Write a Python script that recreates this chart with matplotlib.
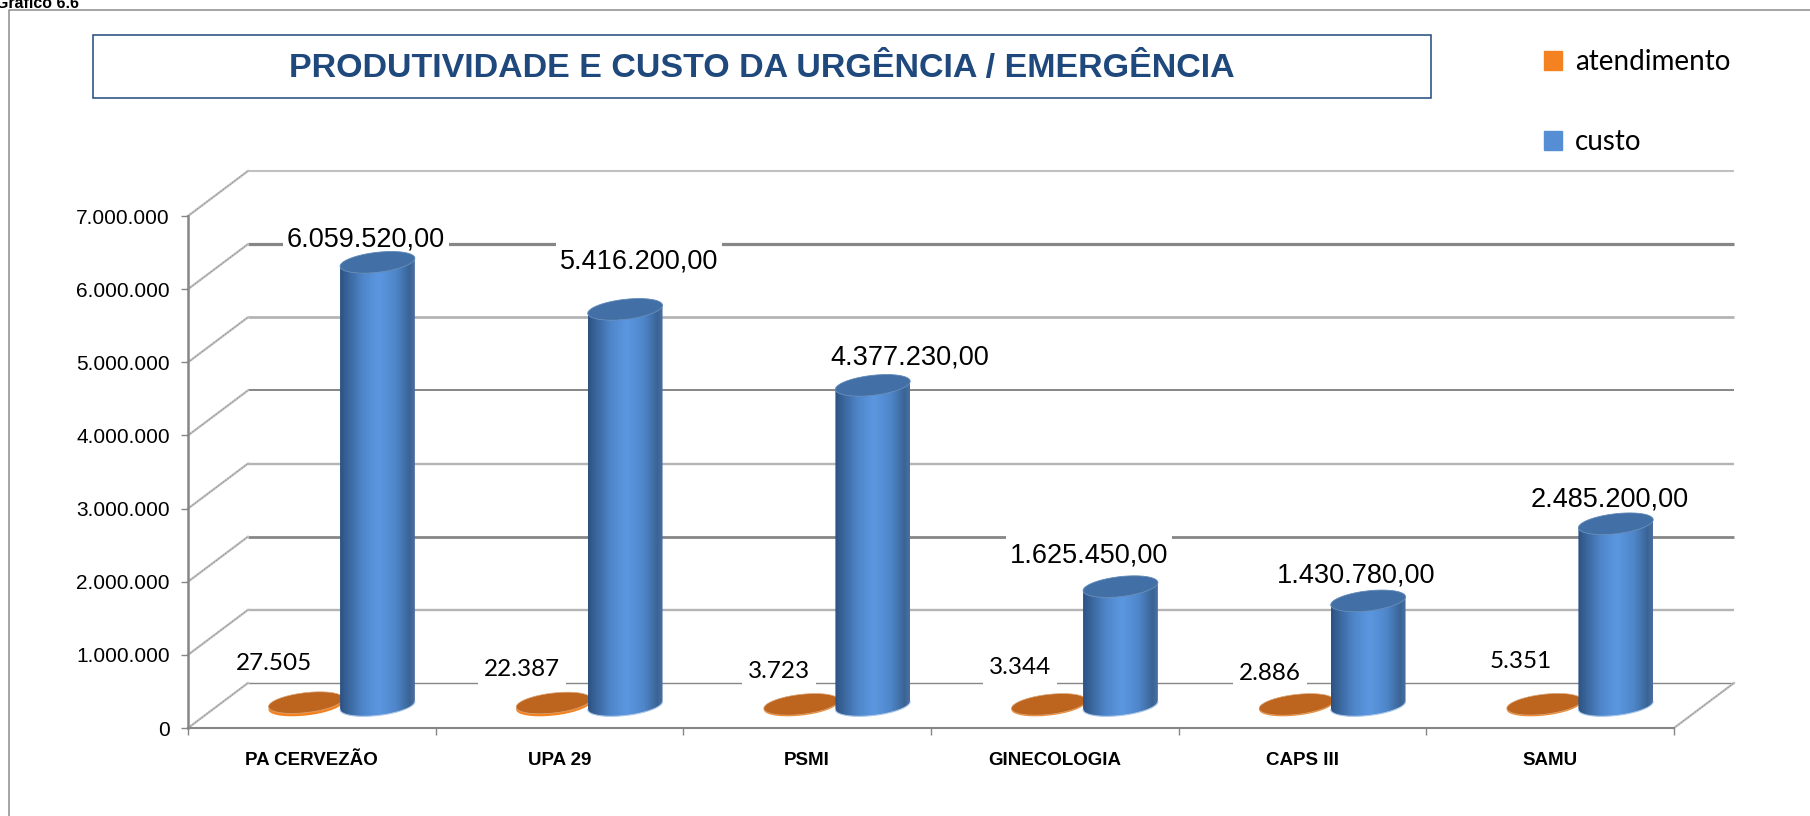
import numpy as np
import matplotlib
matplotlib.use("Agg")
import matplotlib.pyplot as plt
from matplotlib.colors import LinearSegmentedColormap
from matplotlib.lines import Line2D
from matplotlib.patches import Patch, PathPatch, Polygon, Rectangle
from matplotlib.path import Path
from matplotlib.ticker import FuncFormatter

# --- data ---
categories = ["PA CERVEZÃO", "UPA 29", "PSMI", "GINECOLOGIA", "CAPS III", "SAMU"]
atendimento = [27505, 22387, 3723, 3344, 2886, 5351]
custo = [6059520, 5416200, 4377230, 1625450, 1430780, 2485200]
y_ticks = [0, 1000000, 2000000, 3000000, 4000000, 5000000, 6000000, 7000000]

# --- look ---
W, H = 1810, 816
ARIAL = "Liberation Sans"
CALIBRI = "Lato"
GRID_DARK = "#868686"
GRID_LIGHT = "#b4b4b4"
NAVY = "#1F497D"
# back wall lines, bottom to top (color, width in pt)
grid_style = [
    (GRID_DARK, 1.0), (GRID_LIGHT, 1.7), (GRID_DARK, 2.0), (GRID_LIGHT, 1.7),
    (GRID_DARK, 1.4), (GRID_LIGHT, 2.0), (GRID_DARK, 2.3), ("#c0c0c0", 1.5),
]
# label centres in pixels of the picture
custo_label_px = [(366, 240), (639, 262), (910, 358), (1089, 555), (1356, 576), (1610, 499)]
atend_label_px = [(274, 663), (522, 669), (779, 671), (1020, 668), (1270, 673), (1521, 662)]

DEPTH_X = 0.242      # depth of the 3D floor, in categories
DEPTH_Y = 615000     # and in value units
BAR_HALF = 0.151
ELL_B = 137000       # half height of the cylinder ellipses
ELL_TILT = 55000     # right side sits higher than the left

blue_map = LinearSegmentedColormap.from_list(
    "cyl", [(0, "#2d5282"), (0.12, "#3b689f"), (0.3, "#4f86ca"), (0.52, "#5b97e0"),
            (0.75, "#4f86c9"), (0.93, "#3a6496"), (1, "#4a6f9f")])


def fx(x):
    return x / W


def fy(y):
    return 1 - y / H


def thousands(v, pos=None):
    return f"{int(v):,}".replace(",", ".")


def ellipse_pts(cx, cy, t):
    return np.column_stack([cx + BAR_HALF * np.cos(t),
                            cy + ELL_B * np.sin(t) + ELL_TILT * np.cos(t)])


def draw_cylinder(ax, cx, base, value, zorder):
    top = base + value
    low = np.linspace(np.pi, 2 * np.pi, 60)
    body = np.vstack([ellipse_pts(cx, base, low), ellipse_pts(cx, top, low[::-1])])
    patch = Polygon(body, closed=True, transform=ax.transData, facecolor="none", edgecolor="none")
    ax.add_patch(patch)
    grad = np.linspace(0, 1, 120).reshape(1, -1)
    im = ax.imshow(grad, cmap=blue_map, aspect="auto", zorder=zorder,
                   extent=(cx - BAR_HALF, cx + BAR_HALF, base - 2 * ELL_B, top + 2 * ELL_B))
    im.set_clip_path(patch)
    # light rim at the foot of the cylinder
    ax.plot(*ellipse_pts(cx, base, low).T, color="#a9c6ea", lw=0.8, zorder=zorder, clip_on=False)
    cap = np.linspace(0, 2 * np.pi, 90)
    ax.add_patch(Polygon(ellipse_pts(cx, top, cap), closed=True, facecolor="#426fa5",
                         edgecolor="#5f88b8", lw=0.6, zorder=zorder + 0.1, clip_on=False))


def draw_disc(ax, cx, base, value, zorder):
    cap = np.linspace(0, 2 * np.pi, 90)
    ax.add_patch(Polygon(ellipse_pts(cx, base, cap), closed=True, facecolor="#f58220",
                         edgecolor="none", zorder=zorder, clip_on=False))
    # squeezed up a little so the bright rim shows underneath
    ax.add_patch(Polygon(ellipse_pts(cx, base + value + 12000, cap), closed=True, facecolor="#bd651e",
                         edgecolor="#d9a77c", lw=0.5, zorder=zorder + 0.1, clip_on=False))


fig = plt.figure(figsize=(W / 100, H / 100), dpi=100, facecolor="white")
ax = fig.add_axes([fx(188), fy(728), (1674 - 188) / W, (728 - 216) / H])
ax.set_facecolor("none")
n = len(categories)

# --- walls of the 3D box ---
for v, (col, lw) in zip(y_ticks, grid_style):
    ax.plot([DEPTH_X, n + DEPTH_X], [v + DEPTH_Y, v + DEPTH_Y], color=col, lw=lw,
            zorder=1, clip_on=False, solid_capstyle="butt")
    ax.plot([0, DEPTH_X], [v, v + DEPTH_Y], color="#bcbcbc", lw=1.6, zorder=1, clip_on=False)
    ax.plot([0, DEPTH_X], [v, v + DEPTH_Y], color="#8a8a8a", lw=0.7, ls=(0, (1, 2)), zorder=1.1, clip_on=False)
ax.plot([n, n + DEPTH_X], [0, DEPTH_Y], color="#bcbcbc", lw=1.6, zorder=1, clip_on=False)
ax.plot([n, n + DEPTH_X], [0, DEPTH_Y], color="#8a8a8a", lw=0.7, ls=(0, (1, 2)), zorder=1.1, clip_on=False)

# --- bars ---
base = DEPTH_Y / 2
for i in range(n):
    cx = i + DEPTH_X / 2
    draw_disc(ax, cx + 0.355, base, atendimento[i], 3)
    draw_cylinder(ax, cx + 0.644, base, custo[i], 4 + i * 0.01)

# --- axes ---
ax.set_xlim(0, n)
ax.set_ylim(0, 7000000)
ax.set_yticks(y_ticks)
ax.yaxis.set_major_formatter(FuncFormatter(thousands))
ax.set_xticks(range(n + 1))
ax.set_xticklabels([])
ax.set_xticks(np.arange(n) + 0.5, labels=categories, minor=True)
ax.tick_params(axis="y", length=5, width=1, color=GRID_DARK, pad=8, labelsize=15)
ax.tick_params(axis="x", which="major", length=5, width=1, color=GRID_DARK)
ax.tick_params(axis="x", which="minor", length=0, pad=17, labelsize=13.5)
for lab in ax.get_yticklabels():
    lab.set_family(ARIAL)
for lab in ax.get_xticklabels(minor=True):
    lab.set_family(ARIAL)
    lab.set_fontweight("bold")
ax.spines["top"].set_visible(False)
ax.spines["right"].set_visible(False)
for side, w in (("left", 1.8), ("bottom", 1.5)):
    ax.spines[side].set_color(GRID_DARK)
    ax.spines[side].set_linewidth(w)

# --- value labels: white box hides the wall line, bars stay in front of it ---
renderer = fig.canvas.get_renderer()


def value_label(txt, pos, family, size, half_h, pad_x):
    t = ax.text(fx(pos[0]), fy(pos[1]), txt, transform=fig.transFigure, family=family, fontsize=size,
                ha="center", va="center", color="black", zorder=6, clip_on=False)
    w = t.get_window_extent(renderer).width
    ax.add_patch(Rectangle((fx(pos[0] - w / 2 - pad_x), fy(pos[1] + half_h)),
                           (w + 2 * pad_x) / W, 2 * half_h / H, transform=fig.transFigure,
                           facecolor="white", edgecolor="none", zorder=2, clip_on=False))


for v, pos in zip(custo, custo_label_px):
    value_label(thousands(v) + ",00", pos, ARIAL, 19.5, 20, 4)
for v, pos in zip(atendimento, atend_label_px):
    value_label(thousands(v), pos, CALIBRI, 17.5, 18, 6)

# --- title box, legend, outer frame ---
fig.add_artist(Rectangle((fx(93), fy(98)), (1431 - 93) / W, 63 / H, transform=fig.transFigure,
                         facecolor="white", edgecolor=NAVY, lw=1.1))
fig.text(fx(762), fy(68), "PRODUTIVIDADE E CUSTO DA URGÊNCIA / EMERGÊNCIA", family=ARIAL,
         fontsize=24.5, fontweight="bold", color=NAVY, ha="center", va="center")

handles = [Patch(color="#f58220", label="atendimento"), Patch(color="#558ed5", label="custo")]
fig.legend(handles=handles, loc="upper left", bbox_to_anchor=(fx(1533), fy(38)), frameon=False,
           prop={"family": CALIBRI, "size": 20}, handlelength=0.65, handleheight=0.65,
           handletextpad=0.45, labelspacing=1.95, borderpad=0.4, borderaxespad=0)

fig.add_artist(Line2D([fx(9), fx(9), 1], [0, fy(10), fy(10)], color="#8c8c8c", lw=1.1))
fig.text(fx(-4), fy(3), "Gráfico 6.6", family=ARIAL, fontsize=11.5, fontweight="bold", ha="left", va="center")

fig.savefig("out.png", dpi=100)
